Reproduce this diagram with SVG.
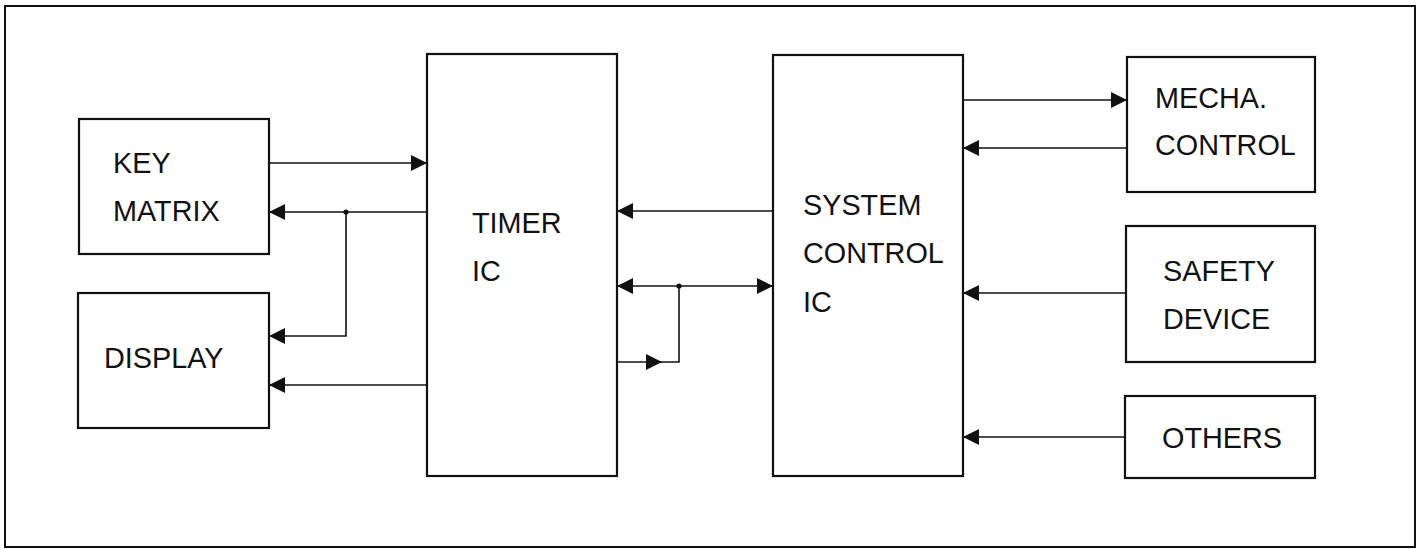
<svg xmlns="http://www.w3.org/2000/svg" width="1422" height="549" viewBox="0 0 1422 549">
<style>
.box{fill:#fff;stroke:#111;stroke-width:2.2}
.lbl{font-family:"Liberation Sans",Arial,sans-serif;font-size:28.8px;fill:#111}
.wire{fill:none;stroke:#111;stroke-width:1.6}
.dot{fill:#111}
</style>
<defs>
<marker id="ah" viewBox="0 0 16 16" refX="16" refY="8" markerWidth="16" markerHeight="16" orient="auto-start-reverse" markerUnits="userSpaceOnUse">
<path d="M0,0 L16,8 L0,16 z" fill="#111"/>
</marker>
</defs>
<rect x="0" y="0" width="1422" height="549" fill="#fff"/>
<rect x="5" y="6" width="1410" height="541" fill="none" stroke="#111" stroke-width="2"/>

<g id="key-matrix">
<rect class="box" x="79" y="119" width="190" height="135"/>
<text class="lbl" x="113" y="173">KEY</text>
<text class="lbl" x="113" y="221">MATRIX</text>
</g>
<g id="display">
<rect class="box" x="78" y="293" width="191" height="135"/>
<text class="lbl" x="104" y="368">DISPLAY</text>
</g>
<g id="timer-ic">
<rect class="box" x="427" y="54" width="190" height="422"/>
<text class="lbl" x="472" y="233">TIMER</text>
<text class="lbl" x="472" y="281">IC</text>
</g>
<g id="system-control-ic">
<rect class="box" x="773" y="55" width="190" height="421"/>
<text class="lbl" x="803" y="215">SYSTEM</text>
<text class="lbl" x="803" y="263">CONTROL</text>
<text class="lbl" x="803" y="312">IC</text>
</g>
<g id="mecha-control">
<rect class="box" x="1127" y="57" width="188" height="135"/>
<text class="lbl" x="1155" y="108">MECHA.</text>
<text class="lbl" x="1155" y="155">CONTROL</text>
</g>
<g id="safety-device">
<rect class="box" x="1126" y="226" width="189" height="136"/>
<text class="lbl" x="1163" y="281">SAFETY</text>
<text class="lbl" x="1163" y="329">DEVICE</text>
</g>
<g id="others">
<rect class="box" x="1125" y="396" width="190" height="82"/>
<text class="lbl" x="1162" y="448">OTHERS</text>
</g>

<g id="connectors">
<path class="wire" d="M269,163 H427" marker-end="url(#ah)"/>
<path class="wire" d="M427,212 H269" marker-end="url(#ah)"/>
<path class="wire" d="M346,212 V336 H269" marker-end="url(#ah)"/>
<path class="wire" d="M427,385 H269" marker-end="url(#ah)"/>
<path class="wire" d="M773,211 H617" marker-end="url(#ah)"/>
<path class="wire" d="M617,286 H773" marker-start="url(#ah)" marker-end="url(#ah)"/>
<path class="wire" d="M617,362 H662" marker-end="url(#ah)"/>
<path class="wire" d="M662,362 H679 V286"/>
<circle class="dot" cx="346" cy="212" r="2.6"/>
<circle class="dot" cx="679" cy="286" r="2.6"/>
<path class="wire" d="M963,100 H1127" marker-end="url(#ah)"/>
<path class="wire" d="M1127,148 H963" marker-end="url(#ah)"/>
<path class="wire" d="M1126,293 H963" marker-end="url(#ah)"/>
<path class="wire" d="M1125,437 H963" marker-end="url(#ah)"/>
</g>
</svg>
